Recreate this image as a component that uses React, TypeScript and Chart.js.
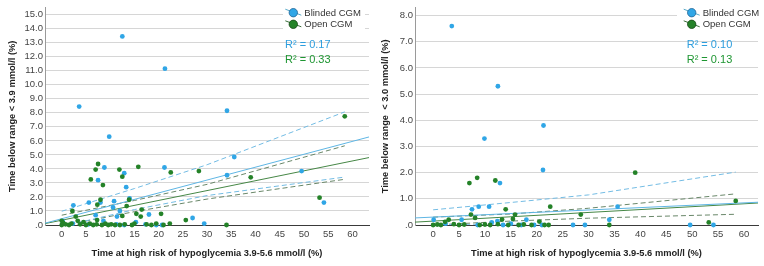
import React, { useEffect, useRef } from 'react';
import { Chart, registerables } from 'chart.js';
Chart.register(...registerables);

// ---------- DATA ----------
// Left panel: time below range < 3.9 mmol/l (%)
const blinded39X = [12.5, 21.3, 3.6, 34.1, 9.8, 35.6, 8.8, 21.2, 12.9, 49.5, 34.1, 7.5, 13.3, 14.0, 10.8, 5.6, 8.0, 54.1, 2.4, 10.6, 12.0, 18.0, 7.0, 11.4, 27.0, 8.6, 29.4, 0.2, 15.3, 17.3, 19.5, 20.7, 2.3, 5.5, 11.3, 12.9];
const blinded39Y = [13.45, 11.15, 8.45, 8.15, 6.3, 4.85, 4.1, 4.1, 3.7, 3.85, 3.55, 3.2, 2.7, 1.9, 1.7, 1.6, 1.6, 1.6, 1.4, 1.25, 1.0, 0.75, 0.7, 0.6, 0.5, 0.3, 0.1, 0.25, 0.2, 0.05, 0.0, 0.0, 0.1, 0.05, 0.05, 0.0];
const open39X = [58.4, 7.5, 7.0, 11.9, 15.8, 12.5, 6.0, 8.5, 22.5, 28.3, 39.0, 53.2, 8.0, 7.35, 13.4, 13.9, 2.2, 2.9, 12.5, 15.4, 16.3, 16.5, 20.5, 25.6, 22.3, 34.0, 7.3, 0.0, 0.3, 0.0, 0.8, 1.5, 2.0, 3.3, 3.8, 4.5, 5.0, 5.8, 6.5, 7.2, 8.3, 9.0, 9.6, 10.2, 11.0, 12.0, 13.0, 14.5, 15.0, 17.5, 18.5, 19.5, 21.0];
const open39Y = [7.75, 4.35, 3.95, 3.95, 4.15, 3.45, 3.25, 2.85, 3.75, 3.85, 3.4, 1.95, 1.8, 1.45, 1.35, 1.8, 1.0, 0.6, 0.65, 0.8, 0.6, 1.1, 0.8, 0.35, 0.1, 0.0, 0.35, 0.3, 0.15, 0.0, 0.05, 0.0, 0.1, 0.3, 0.05, 0.2, 0.0, 0.1, 0.0, 0.05, 0.0, 0.1, 0.0, 0.05, 0.0, 0.0, 0.05, 0.0, 0.1, 0.05, 0.0, 0.1, 0.0];

// Right panel: time below range < 3.0 mmol/l (%)
const blinded30X = [3.6, 12.5, 21.3, 9.9, 21.2, 12.9, 8.8, 10.8, 7.5, 35.6, 34.0, 0.1, 5.5, 18.0, 11.3, 27.0, 29.3, 49.6, 54.1, 15.0, 17.0, 19.5, 21.0, 2.4, 8.6, 13.5, 12.4];
const blinded30Y = [7.6, 5.3, 3.8, 3.3, 2.1, 1.6, 0.7, 0.7, 0.6, 0.7, 0.2, 0.2, 0.2, 0.2, 0.1, 0.0, 0.0, 0.0, 0.0, 0.05, 0.0, 0.0, 0.0, 0.05, 0.0, 0.0, 0.15];
const open30X = [39.0, 8.5, 12.0, 7.0, 22.6, 14.0, 58.4, 28.5, 15.8, 7.3, 8.1, 3.0, 2.3, 15.4, 13.3, 20.5, 53.2, 34.0, 0.0, 0.8, 1.5, 4.0, 5.0, 6.0, 9.0, 10.0, 11.0, 12.5, 14.5, 16.5, 17.5, 19.0, 21.5, 22.3];
const open30Y = [2.0, 1.8, 1.7, 1.6, 0.7, 0.6, 0.92, 0.4, 0.4, 0.4, 0.27, 0.2, 0.12, 0.23, 0.21, 0.13, 0.1, 0.0, 0.0, 0.02, 0.0, 0.03, 0.0, 0.02, 0.0, 0.02, 0.0, 0.03, 0.0, 0.0, 0.02, 0.0, 0.0, 0.0];

// Fit lines (end points)
const fitX39 = [-3.45, 63.4];
const blindedFit39 = [0.13, 6.28];
const openFit39 = [0.1, 4.81];
const fitX30 = [-3.5, 62.7];
const blindedFit30 = [0.27, 0.87];
const openFit30 = [0.11, 0.84];

// Confidence bands of the mean (dashed)
const ciX = [0, 15, 30, 58.4];
const blindedUpper39 = [0.98, 2.6, 4.3, 8.07];
const blindedLower39 = [-0.1, 1.1, 2.1, 3.42];
const openUpper39 = [0.7, 1.75, 2.9, 5.65];
const openLower39 = [-0.05, 0.95, 1.85, 3.26];
const blindedUpper30 = [0.58, 0.86, 1.15, 2.02];
const blindedLower30 = [0.02, 0.0, -0.03, -0.4];
const openUpper30 = [0.3, 0.42, 0.64, 1.19];
const openLower30 = [0.0, 0.15, 0.26, 0.41];

const xTickValues = [0, 5, 10, 15, 20, 25, 30, 35, 40, 45, 50, 55, 60];
const yTicksLeft = [0, 1, 2, 3, 4, 5, 6, 7, 8, 9, 10, 11, 12, 13, 14, 15];
const yTicksRight = [0, 1, 2, 3, 4, 5, 6, 7, 8];
const legendLabels = ['Blinded CGM', 'Open CGM'];
const r2Left = ['0.17', '0.33'];
const r2Right = ['0.10', '0.13'];

// ---------- STYLE ----------
const FONT = 'Arial, "Liberation Sans", sans-serif';
const BLUE = 'rgb(48,166,230)';
const GREEN = 'rgb(36,130,40)';
const BLUE_LINE = 'rgb(95,182,228)';
const GREEN_LINE = 'rgb(70,135,70)';
const BLUE_DASH = 'rgb(115,188,228)';
const GREEN_DASH = 'rgb(105,135,105)';
const BLUE_TEXT = 'rgb(45,158,222)';
const GREEN_TEXT = 'rgb(30,150,50)';

const pts = (xs: number[], ys: number[]) => xs.map((x, i) => ({ x, y: ys[i] }));

function lineDs(xs: number[], ys: number[], color: string, dashed: boolean) {
  return {
    type: 'scatter' as const,
    data: pts(xs, ys),
    showLine: true,
    borderColor: color,
    backgroundColor: color,
    borderWidth: 1,
    borderDash: dashed ? [5, 3] : [],
    pointRadius: 0,
    pointHoverRadius: 0,
  };
}

function pointDs(xs: number[], ys: number[], color: string) {
  return {
    type: 'scatter' as const,
    data: pts(xs, ys),
    backgroundColor: color,
    borderColor: color,
    borderWidth: 0,
    pointRadius: 2.4,
    clip: false as const,
  };
}

type PanelOpts = {
  width: number;
  yMax: number;
  yTicks: number[];
  xMin: number;
  xMax: number;
  yWidth: number;
  padTop: number;
  padRight: number;
  yTitle: string;
  yTitlePad: number;
  legendX: number;
  legendBox: [number, number, number, number];
  r2X: number;
  r2: string[];
  datasets: any[];
};

function makeConfig(o: PanelOpts): any {
  const overlay = {
    id: 'overlay',
    afterDraw(chart: any) {
      const ctx = chart.ctx;
      ctx.save();
      const [bx, by, bw, bh] = o.legendBox;
      ctx.fillStyle = '#ffffff';
      ctx.fillRect(bx, by, bw, bh);
      const rows = [
        { y: 12.7, fill: BLUE, line: 'rgb(90,170,200)', stroke: 'rgb(30,100,150)' },
        { y: 24.3, fill: GREEN, line: 'rgb(60,110,60)', stroke: 'rgb(20,70,20)' },
      ];
      rows.forEach((r, i) => {
        const cx = o.legendX;
        ctx.strokeStyle = r.line;
        ctx.lineWidth = 1;
        ctx.beginPath();
        ctx.moveTo(cx - 8, r.y - 3.5);
        ctx.lineTo(cx + 8, r.y + 2.5);
        ctx.stroke();
        ctx.beginPath();
        ctx.arc(cx, r.y, 4.2, 0, Math.PI * 2);
        ctx.fillStyle = r.fill;
        ctx.fill();
        ctx.strokeStyle = r.stroke;
        ctx.lineWidth = 0.8;
        ctx.stroke();
        ctx.fillStyle = '#333333';
        ctx.font = `9.5px ${FONT}`;
        ctx.textBaseline = 'middle';
        ctx.textAlign = 'left';
        ctx.fillText(legendLabels[i], cx + 11, r.y + 0.5);
      });
      ctx.font = `11px ${FONT}`;
      ctx.textBaseline = 'middle';
      ctx.fillStyle = BLUE_TEXT;
      ctx.fillText(`R\u00B2 = ${o.r2[0]}`, o.r2X, 45);
      ctx.fillStyle = GREEN_TEXT;
      ctx.fillText(`R\u00B2 = ${o.r2[1]}`, o.r2X, 59.5);
      ctx.restore();
    },
  };

  return {
    type: 'scatter',
    data: { datasets: o.datasets },
    plugins: [overlay],
    options: {
      responsive: false,
      animation: false,
      events: [],
      layout: { padding: { left: 0, top: o.padTop, right: o.padRight, bottom: 0 } },
      plugins: { legend: { display: false }, tooltip: { enabled: false } },
      scales: {
        x: {
          type: 'linear',
          min: o.xMin,
          max: o.xMax,
          afterFit: (s: any) => { s.height = 41; },
          afterBuildTicks: (s: any) => {
            s.ticks = xTickValues.map((v) => ({ value: v }));
          },
          grid: { display: false, drawTicks: false },
          border: { display: true, color: '#3a3a3a', width: 1 },
          ticks: {
            stepSize: 5,
            autoSkip: false,
            maxRotation: 0,
            padding: 4,
            color: '#444444',
            font: { family: FONT, size: 9.5 },
          },
          title: {
            display: true,
            text: 'Time at high risk of hypoglycemia 3.9-5.6 mmol/l (%)',
            color: '#222222',
            font: { family: FONT, size: 9.3, weight: 'bold' },
            padding: { top: 0, bottom: 7.4 },
          },
        },
        y: {
          type: 'linear',
          min: 0,
          max: o.yMax,
          afterFit: (s: any) => { s.width = o.yWidth; },
          afterBuildTicks: (s: any) => {
            s.ticks = o.yTicks.map((v) => ({ value: v }));
          },
          grid: { display: true, drawTicks: false, color: '#d6d6d6', lineWidth: 1 },
          border: { display: true, color: '#9a9a9a', width: 1 },
          ticks: {
            stepSize: 1,
            autoSkip: false,
            padding: 2,
            color: '#444444',
            font: { family: FONT, size: 9.5 },
            callback: (v: any) => (Number(v) === 0 ? '.0' : Number(v).toFixed(1)),
          },
          title: {
            display: true,
            text: o.yTitle,
            color: '#222222',
            font: { family: FONT, size: 9.3, weight: 'bold' },
            padding: { top: o.yTitlePad, bottom: 0 },
          },
        },
      },
    },
  };
}

function Panel({ opts, left }: { opts: PanelOpts; left: number }) {
  const ref = useRef<HTMLCanvasElement | null>(null);
  useEffect(() => {
    if (!ref.current) return;
    const chart = new Chart(ref.current, makeConfig(opts));
    return () => chart.destroy();
  }, []);
  return (
    <canvas
      ref={ref}
      width={opts.width}
      height={266}
      style={{ position: 'absolute', left, top: 0, width: opts.width, height: 266 }}
    />
  );
}

const leftOpts: PanelOpts = {
  width: 378,
  yMax: 15.5,
  yTicks: yTicksLeft,
  xMin: -3.45,
  xMax: 63.4,
  yWidth: 45,
  padTop: 3,
  padRight: 9,
  yTitle: 'Time below range < 3.9 mmol/l (%)',
  yTitlePad: 6.4,
  legendX: 293.3,
  legendBox: [283, 0, 82, 30],
  r2X: 285,
  r2: r2Left,
  datasets: [
    pointDs(open39X, open39Y, GREEN),
    pointDs(blinded39X, blinded39Y, BLUE),
    lineDs(fitX39, blindedFit39, BLUE_LINE, false),
    lineDs(fitX39, openFit39, GREEN_LINE, false),
    lineDs(ciX, blindedUpper39, BLUE_DASH, true),
    lineDs(ciX, blindedLower39, BLUE_DASH, true),
    lineDs(ciX, openUpper39, GREEN_DASH, true),
    lineDs(ciX, openLower39, GREEN_DASH, true),
  ],
};

const rightOpts: PanelOpts = {
  width: 386,
  yMax: 8.3,
  yTicks: yTicksRight,
  xMin: -3.5,
  xMax: 62.7,
  yWidth: 37,
  padTop: 6,
  padRight: 6,
  yTitle: 'Time below range  < 3.0 mmol/l (%)',
  yTitlePad: 1.4,
  legendX: 313.7,
  legendBox: [299, 0, 87, 30],
  r2X: 308.7,
  r2: r2Right,
  datasets: [
    pointDs(open30X, open30Y, GREEN),
    pointDs(blinded30X, blinded30Y, BLUE),
    lineDs(fitX30, blindedFit30, BLUE_LINE, false),
    lineDs(fitX30, openFit30, GREEN_LINE, false),
    lineDs(ciX, blindedUpper30, BLUE_DASH, true),
    lineDs(ciX, blindedLower30, BLUE_DASH, true),
    lineDs(ciX, openUpper30, GREEN_DASH, true),
    lineDs(ciX, openLower30, GREEN_DASH, true),
  ],
};

export default function App() {
  return (
    <div style={{ position: 'fixed', left: 0, top: 0, width: 764, height: 266, background: '#ffffff', overflow: 'hidden' }}>
      <Panel opts={leftOpts} left={0} />
      <Panel opts={rightOpts} left={378} />
    </div>
  );
}
